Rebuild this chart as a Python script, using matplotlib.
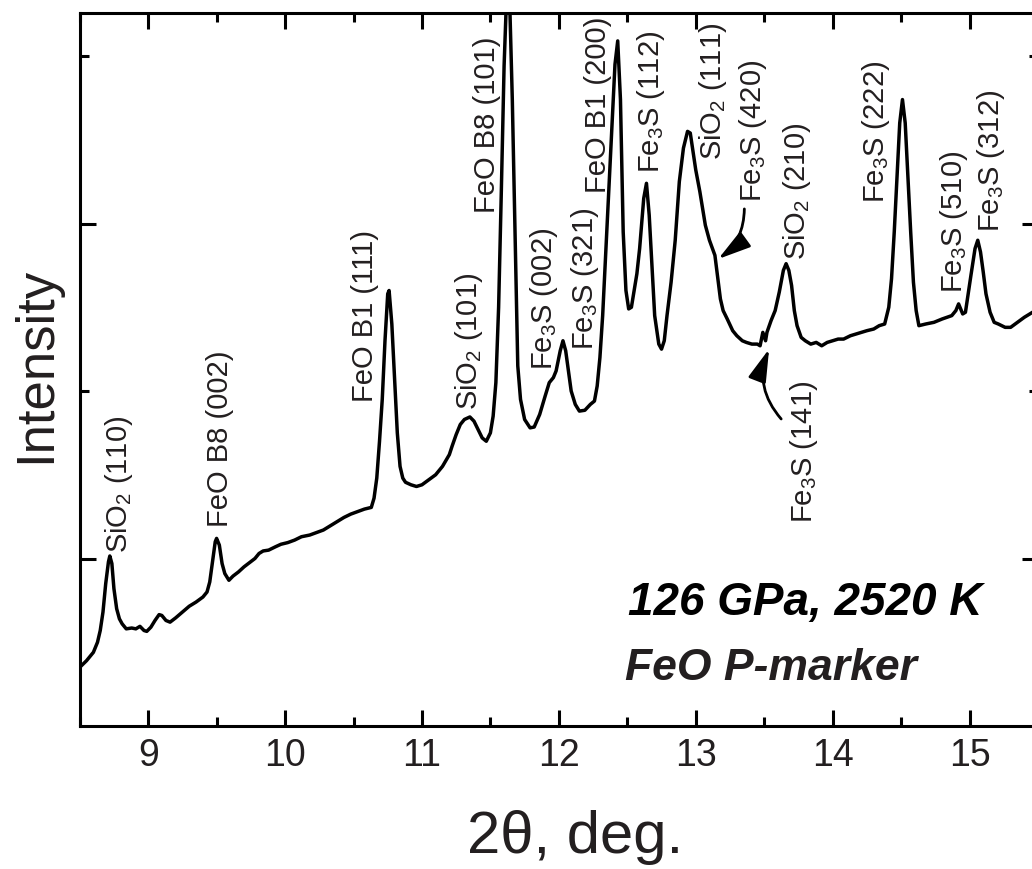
import matplotlib
matplotlib.use("Agg")
import matplotlib.pyplot as plt
from matplotlib.ticker import MultipleLocator, FixedLocator

plt.rcParams['font.family'] = ['Liberation Sans', 'DejaVu Sans']
plt.rcParams['mathtext.fontset'] = 'custom'
plt.rcParams['mathtext.rm'] = 'Liberation Sans'
plt.rcParams['mathtext.it'] = 'Liberation Sans:italic'

two_theta = [
    8.50, 8.55, 8.60, 8.63, 8.65, 8.67, 8.69, 8.71, 8.72, 8.735, 8.75, 8.77, 8.79, 8.81,
    8.84, 8.88, 8.91, 8.94, 8.97, 8.99, 9.02, 9.05, 9.08, 9.10, 9.13, 9.16, 9.20, 9.25,
    9.30, 9.35, 9.40, 9.43, 9.45, 9.47, 9.49, 9.50, 9.52, 9.54, 9.56, 9.59, 9.62, 9.66,
    9.70, 9.74, 9.78, 9.81, 9.84, 9.88, 9.93, 9.97, 10.02, 10.07, 10.12, 10.18, 10.23,
    10.28, 10.33, 10.38, 10.43, 10.48, 10.53, 10.58, 10.63, 10.65, 10.67, 10.69, 10.71,
    10.73, 10.75, 10.76, 10.78, 10.80, 10.82, 10.84, 10.86, 10.88, 10.92, 10.96, 11.00,
    11.05, 11.10, 11.15, 11.20, 11.22, 11.25, 11.28, 11.31, 11.35, 11.38, 11.41, 11.44,
    11.47, 11.50, 11.52, 11.54, 11.56, 11.58, 11.60, 11.62, 11.64, 11.66, 11.68, 11.70,
    11.72, 11.75, 11.79, 11.82, 11.86, 11.90, 11.93, 11.96, 11.98, 12.01, 12.03, 12.05,
    12.07, 12.09, 12.12, 12.15, 12.19, 12.23, 12.26, 12.28, 12.30, 12.32, 12.35, 12.38,
    12.41, 12.43, 12.45, 12.47, 12.49, 12.51, 12.53, 12.55, 12.57, 12.59, 12.62, 12.64,
    12.66, 12.68, 12.70, 12.73, 12.75, 12.77, 12.79, 12.82, 12.85, 12.88, 12.91, 12.94,
    12.96, 12.98, 13.00, 13.03, 13.07, 13.10, 13.14, 13.16, 13.18, 13.20, 13.23, 13.27,
    13.30, 13.34, 13.37, 13.41, 13.45, 13.47, 13.49, 13.51, 13.52, 13.55, 13.58, 13.61,
    13.64, 13.66, 13.68, 13.70, 13.72, 13.74, 13.77, 13.80, 13.84, 13.88, 13.92, 13.96,
    14.00, 14.04, 14.08, 14.13, 14.17, 14.21, 14.25, 14.30, 14.34, 14.38, 14.41, 14.43,
    14.45, 14.47, 14.49, 14.51, 14.53, 14.55, 14.57, 14.59, 14.61, 14.63, 14.68, 14.74,
    14.80, 14.87, 14.90, 14.92, 14.95, 14.97, 14.99, 15.01, 15.04, 15.06, 15.08, 15.10,
    15.12, 15.15, 15.18, 15.21, 15.26, 15.30, 15.35, 15.40, 15.46, 15.50,
]
intensity = [
    0.35, 0.39, 0.44, 0.50, 0.57, 0.68, 0.85, 0.98, 1.015, 0.97, 0.82, 0.70, 0.64, 0.61,
    0.58, 0.585, 0.58, 0.595, 0.57, 0.565, 0.59, 0.63, 0.665, 0.66, 0.63, 0.62, 0.645, 0.68,
    0.715, 0.74, 0.77, 0.80, 0.86, 0.98, 1.10, 1.12, 1.08, 0.97, 0.91, 0.87, 0.895, 0.92,
    0.95, 0.975, 1.00, 1.03, 1.045, 1.05, 1.07, 1.085, 1.095, 1.11, 1.13, 1.14, 1.155,
    1.17, 1.195, 1.22, 1.245, 1.265, 1.28, 1.295, 1.305, 1.36, 1.48, 1.70, 1.95,
    2.30, 2.58, 2.60, 2.40, 2.07, 1.75, 1.55, 1.48, 1.455, 1.44, 1.43, 1.44,
    1.47, 1.50, 1.55, 1.62, 1.67, 1.74, 1.80, 1.83, 1.845, 1.82, 1.77, 1.72,
    1.70, 1.75, 1.85, 2.05, 2.50, 3.20, 3.94, 4.40, 4.35, 3.74, 2.95, 2.15,
    1.95, 1.83, 1.78, 1.785, 1.86, 1.97, 2.05, 2.08, 2.12, 2.24, 2.30, 2.24,
    2.12, 2.00, 1.92, 1.88, 1.885, 1.92, 1.94, 2.03, 2.20, 2.45, 2.95, 3.45,
    3.95, 4.09, 3.74, 2.95, 2.60, 2.49, 2.50, 2.60, 2.70, 2.85, 3.15, 3.24,
    3.05, 2.75, 2.45, 2.28, 2.25, 2.30, 2.45, 2.65, 2.90, 3.25, 3.45, 3.55,
    3.54, 3.43, 3.32, 3.19, 2.99, 2.90, 2.81, 2.68, 2.55, 2.48, 2.43, 2.36,
    2.33, 2.30, 2.29, 2.28, 2.28, 2.27, 2.35, 2.30, 2.35, 2.42, 2.48, 2.59,
    2.72, 2.76, 2.72, 2.63, 2.48, 2.39, 2.32, 2.30, 2.28, 2.29, 2.27, 2.29,
    2.30, 2.31, 2.31, 2.33, 2.34, 2.35, 2.36, 2.37, 2.39, 2.40, 2.50, 2.67,
    2.95, 3.27, 3.60, 3.74, 3.60, 3.27, 2.95, 2.65, 2.48, 2.39, 2.40, 2.41,
    2.43, 2.45, 2.48, 2.52, 2.46, 2.47, 2.58, 2.69, 2.85, 2.90, 2.83, 2.71,
    2.58, 2.47, 2.41, 2.40, 2.38, 2.38, 2.41, 2.44, 2.47, 2.48,
]

peak_labels = [
    "SiO$_2$ (110)", "FeO B8 (002)", "FeO B1 (111)", "SiO$_2$ (101)", "FeO B8 (101)",
    "Fe$_3$S (002)", "Fe$_3$S (321)", "FeO B1 (200)", "Fe$_3$S (112)", "SiO$_2$ (111)",
    "Fe$_3$S (420)", "SiO$_2$ (210)", "Fe$_3$S (222)", "Fe$_3$S (510)", "Fe$_3$S (312)",
    "Fe$_3$S (141)",
]
label_x = [8.788, 9.527, 10.587, 11.341, 11.473, 11.890, 12.190, 12.285, 12.673, 13.127,
           13.420, 13.741, 14.319, 14.890, 15.160, 13.792]
label_y = [1.039, 1.197, 1.940, 1.893, 3.069, 2.131, 2.251, 3.188, 3.307, 3.385,
           3.134, 2.788, 3.128, 2.591, 2.955, 1.218]

xticks = [9, 10, 11, 12, 13, 14, 15]
txt_color = '#231f20'

fig = plt.figure(figsize=(10.32, 8.70), dpi=100)
ax = fig.add_axes([79.7 / 1032, 143 / 870, 958.3 / 1032, 713 / 870])

ax.plot(two_theta, intensity, color='black', lw=2.5, solid_joinstyle='round')

ax.set_xlim(8.5, 15.5)
ax.set_ylim(0, 713 / 167.5)

ax.xaxis.set_major_locator(FixedLocator(xticks))
ax.xaxis.set_minor_locator(MultipleLocator(0.5))
ax.yaxis.set_major_locator(FixedLocator([1, 3]))
ax.yaxis.set_minor_locator(FixedLocator([2, 4]))
ax.set_xticklabels([str(t) for t in xticks])
ax.set_yticklabels([])

ax.tick_params(which='both', direction='in', top=True, right=True, width=2.2,
               colors='black', labelcolor=txt_color)
ax.tick_params(which='major', length=11.5, labelsize=27, pad=8)
ax.tick_params(which='minor', length=6.5)
for s in ax.spines.values():
    s.set_linewidth(2.2)

for t, x, y in zip(peak_labels, label_x, label_y):
    ax.text(x, y, t, rotation=90, ha='center', va='bottom', fontsize=21, color=txt_color)

arrow_kw = dict(arrowstyle='-|>,head_length=1.0,head_width=0.28', color='black', lw=2.0,
                mutation_scale=20, shrinkA=0, shrinkB=0)
ax.annotate('', xy=(13.164, 2.788), xytext=(13.355, 3.087),
            arrowprops=dict(connectionstyle='arc3,rad=-0.25', **arrow_kw))
ax.annotate('', xy=(13.536, 2.251), xytext=(13.624, 1.833),
            arrowprops=dict(connectionstyle='arc3,rad=-0.3', **arrow_kw))

ax.text(0.572, 0.157, "126 GPa, 2520 K", transform=ax.transAxes, fontsize=33,
        fontweight='bold', fontstyle='italic', color='black', va='baseline', ha='left')
ax.text(0.569, 0.066, "FeO P-marker", transform=ax.transAxes, fontsize=32,
        fontweight='bold', fontstyle='italic', color=txt_color, va='baseline', ha='left')

fig.text(575 / 1032, (870 - 853) / 870, "2θ, deg.", fontsize=43, color=txt_color,
         ha='center', va='baseline')
fig.text(36 / 1032, 1 - 365 / 870, "Intensity", fontsize=38, color=txt_color,
         rotation=90, ha='center', va='center')

fig.savefig("out.png", dpi=100)
